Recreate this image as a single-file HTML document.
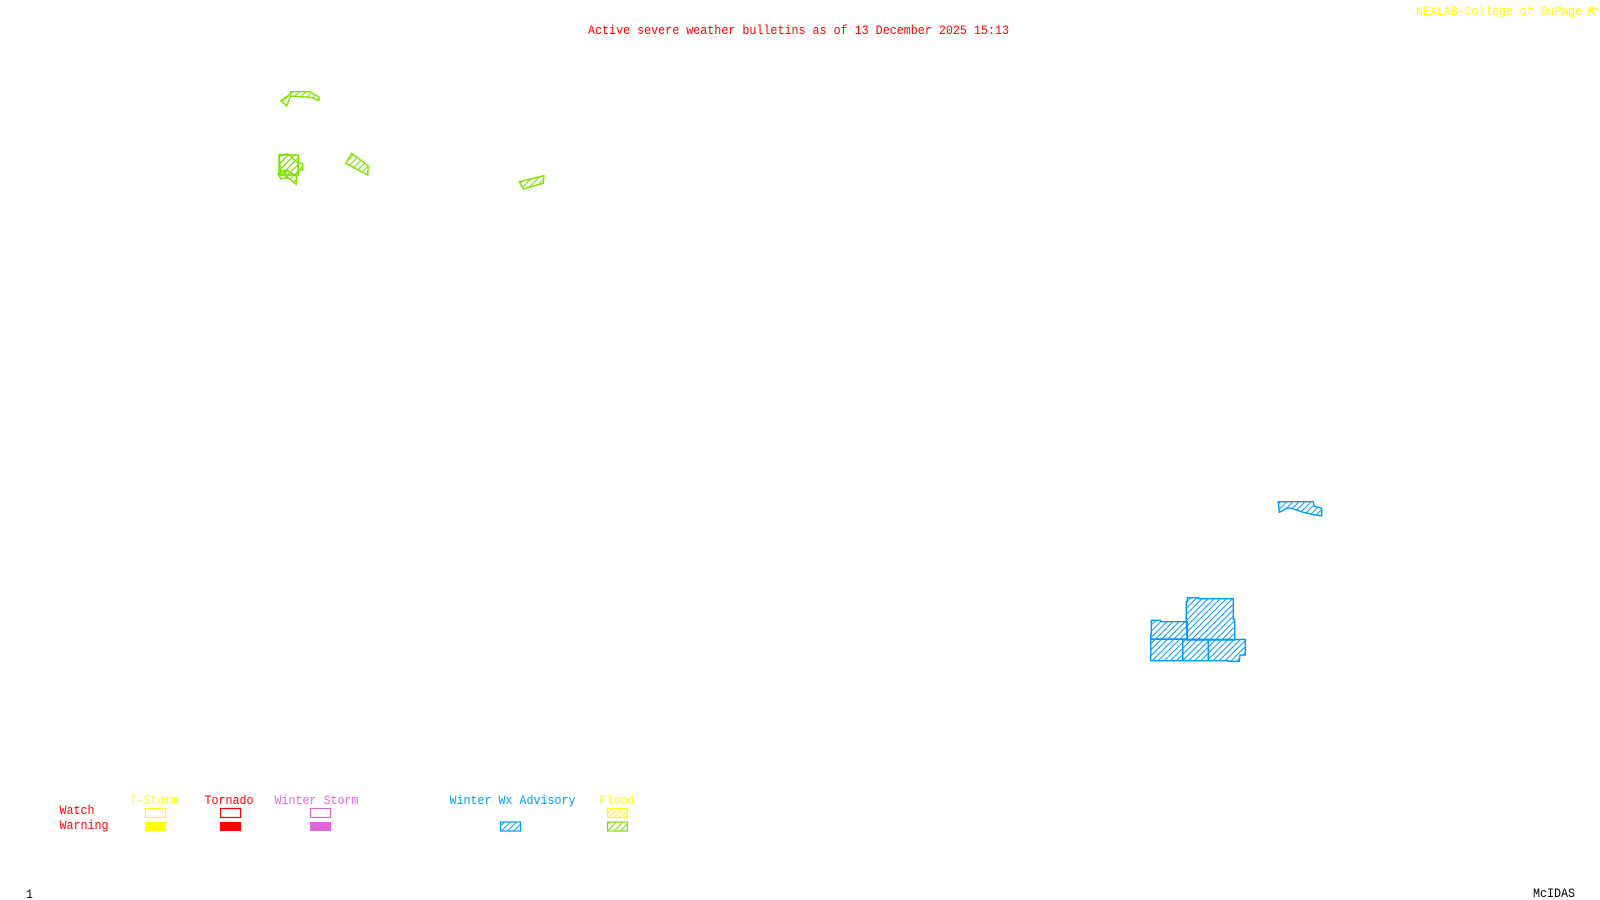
<!DOCTYPE html>
<html><head><meta charset="utf-8">
<style>
html,body{margin:0;padding:0;background:#fff;width:1600px;height:900px;overflow:hidden}
svg{display:block}
text{font-family:"Liberation Mono",monospace;font-size:12.5px}
.g{fill:url(#hg);stroke:#7fe000;stroke-width:1.4}
.b{fill:url(#hb);stroke:#0099ff;stroke-width:1.4}
</style></head><body>
<svg width="1600" height="900" viewBox="0 0 1600 900" xmlns="http://www.w3.org/2000/svg">
<defs>
<pattern id="hg" width="4.6" height="4.6" patternUnits="userSpaceOnUse" patternTransform="rotate(45)"><rect width="1.1" height="4.6" fill="#7fe000"/></pattern>
<pattern id="hb" width="4.3" height="4.3" patternUnits="userSpaceOnUse" patternTransform="rotate(45)"><rect width="1" height="4.3" fill="#0099ff"/></pattern>
<pattern id="hy" width="4" height="4" patternUnits="userSpaceOnUse" patternTransform="rotate(45)"><rect width="1.1" height="4" fill="#ffff00"/></pattern>
</defs>
<rect width="1600" height="900" fill="#fff"/>

<text x="588" y="34" fill="#ff0000" textLength="421" lengthAdjust="spacingAndGlyphs">Active severe weather bulletins as of 13 December 2025 15:13</text>
<text x="1416" y="15" fill="#ffff00" textLength="166" lengthAdjust="spacingAndGlyphs">NEXLAB-College of DuPage</text>
<path d="M1589 16V8H1596V11M1589 8L1596 16M1589 12L1595 8" fill="none" stroke="#ffff00" stroke-width="1.2"/>

<polygon class="g" points="290.7,91.7 310,91.7 319.3,97.3 318.7,100.7 310.7,97.3 299.3,96.7 290.7,96 286.7,106 280.7,100.7 290.7,94"/>
<polygon class="g" points="279,155 298.3,155 298.3,175 279,175"/>
<polygon class="g" points="298.3,163.3 302.7,163.3 302.7,170 298.3,170"/>
<polygon class="g" points="279,155 288,154 298,163 298,175 281,175"/>
<polygon class="g" points="286.7,170 296.7,176.7 296,184.3 285,175"/>
<polygon class="g" points="278,174 284,170 287,178 281,179"/>
<polygon class="g" points="351.7,153.3 368.3,166 367.7,175 345.7,163.3"/>
<polygon class="g" points="519.3,181.7 544,175.7 543.3,183.3 523.3,189"/>

<polygon class="b" points="1278.3,501.7 1313.3,501.7 1314,506 1321.7,508.3 1321.7,515.7 1315,515 1303.3,512.3 1293.3,509 1288.3,507.7 1279.3,512.3"/>
<polygon class="b" points="1187.3,597.7 1198.7,597.7 1198.7,598.7 1233.3,598.7 1233.3,619.3 1234.7,619.3 1234.7,640 1187,640 1186.3,618.3 1186.3,601.7 1187.3,601.7"/>
<polygon class="b" points="1151.3,620.3 1160.7,620.3 1160.7,621.7 1187.3,621.7 1187.3,639 1150.7,639 1150.7,634.3 1151.3,634.3"/>
<polygon class="b" points="1150.7,639.3 1182.7,639.3 1182.7,660.7 1150.7,660.7"/>
<polygon class="b" points="1182.7,639.3 1208.3,639.3 1208.3,660.7 1182.7,660.7"/>
<polygon class="b" points="1208.3,639.5 1245.3,639.5 1245.3,655 1240,655 1239.3,661.3 1228.3,661.3 1228.3,660.7 1208.3,660.7"/>

<text x="130" y="804" fill="#ffff00" textLength="48" lengthAdjust="spacingAndGlyphs">T-Storm</text>
<text x="204.5" y="804" fill="#ff0000" textLength="49" lengthAdjust="spacingAndGlyphs">Tornado</text>
<text x="274.5" y="804" fill="#dd66dd" textLength="84" lengthAdjust="spacingAndGlyphs">Winter Storm</text>
<text x="449.5" y="804" fill="#0099ff" textLength="126" lengthAdjust="spacingAndGlyphs">Winter Wx Advisory</text>
<text x="599.5" y="804" fill="#ffff00" textLength="35" lengthAdjust="spacingAndGlyphs">Flood</text>
<text x="59.5" y="814" fill="#ff0000" textLength="35" lengthAdjust="spacingAndGlyphs">Watch</text>
<text x="59.5" y="829" fill="#ff0000" textLength="49" lengthAdjust="spacingAndGlyphs">Warning</text>

<rect x="145.5" y="808.5" width="20" height="9" fill="none" stroke="#ffff00" stroke-width="1.2"/>
<rect x="220.5" y="808.5" width="20" height="9" fill="none" stroke="#ff0000" stroke-width="1.2"/>
<rect x="310.5" y="808.5" width="20" height="9" fill="none" stroke="#dd66dd" stroke-width="1.2"/>
<rect x="607.5" y="808.5" width="20" height="9" fill="url(#hy)" stroke="#ffff00" stroke-width="1.2"/>
<rect x="145" y="822" width="21" height="9" fill="#ffff00"/>
<rect x="220" y="822" width="21" height="9" fill="#ff0000"/>
<rect x="310" y="822" width="21" height="9" fill="#dd66dd"/>
<rect x="500.5" y="822" width="20" height="9" fill="url(#hb)" stroke="#0099ff" stroke-width="1.2"/>
<rect x="607.5" y="822" width="20" height="9" fill="url(#hg)" stroke="#7fe000" stroke-width="1.2"/>

<text x="26" y="898" fill="#000" font-size="11" textLength="7" lengthAdjust="spacingAndGlyphs">1</text>
<text x="1533" y="897" fill="#000" textLength="42" lengthAdjust="spacingAndGlyphs">McIDAS</text>
</svg>
</body></html>
